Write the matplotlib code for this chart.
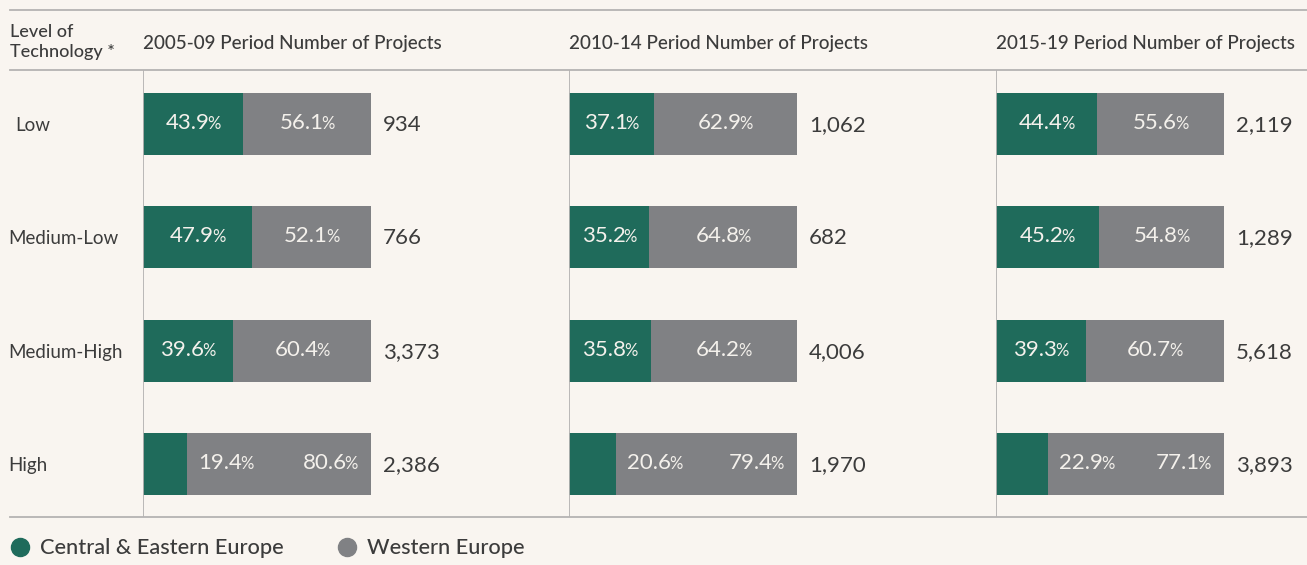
import matplotlib
matplotlib.use("Agg")
import matplotlib.pyplot as plt
from matplotlib.offsetbox import TextArea, HPacker, AnnotationBbox
from matplotlib.lines import Line2D

# ---------------- data ----------------
levels = ["Low", "Medium-Low", "Medium-High", "High"]
periods = ["2005-09", "2010-14", "2015-19"]
cee_2005 = [43.9, 47.9, 39.6, 19.4]
we_2005 = [56.1, 52.1, 60.4, 80.6]
cee_2010 = [37.1, 35.2, 35.8, 20.6]
we_2010 = [62.9, 64.8, 64.2, 79.4]
cee_2015 = [44.4, 45.2, 39.3, 22.9]
we_2015 = [55.6, 54.8, 60.7, 77.1]
projects_2005 = [934, 766, 3373, 2386]
projects_2010 = [1062, 682, 4006, 1970]
projects_2015 = [2119, 1289, 5618, 3893]
series_names = ["Central & Eastern Europe", "Western Europe"]

# ---------------- style ----------------
BG = "#f9f5f0"
GREEN = "#1f6b5b"
GRAY = "#808184"
LINE = "#b5b3b2"
TXT = "#3c3c3c"
WHITE = "#f4f1ec"
plt.rcParams["font.family"] = ["Lato", "DejaVu Sans"]

W, H = 1307, 565
fig = plt.figure(figsize=(W / 100, H / 100), dpi=100, facecolor=BG)


def fx(px):
    return px / W


def fy(py):
    return 1 - py / H


panel_left = [143, 569, 996]
panel_right = [569, 996, W]
PX_PER_UNIT = 2.28
TOP, BOTTOM = 70, 517

cee_all = [cee_2005, cee_2010, cee_2015]
we_all = [we_2005, we_2010, we_2015]
proj_all = [projects_2005, projects_2010, projects_2015]

PCT_FS = 16
PCT_SIGN_FS = 12
PT_PER_PX = 0.72


def pct_label(ax, value, x, y, align, dx_px=0):
    parts = HPacker(children=[
        TextArea(f"{value:.1f}", textprops=dict(color=WHITE, fontsize=PCT_FS)),
        TextArea("%", textprops=dict(color=WHITE, fontsize=PCT_SIGN_FS)),
    ], align="baseline", pad=0, sep=-1.5)
    ab = AnnotationBbox(parts, (x, y), xybox=(dx_px * PT_PER_PX, 1 * PT_PER_PX),
                        xycoords="data", boxcoords="offset points",
                        box_alignment=(align, 0.5), frameon=False, pad=0)
    ax.add_artist(ab)


ypos = list(range(len(levels)))
for p in range(3):
    left, right = panel_left[p], panel_right[p]
    ax = fig.add_axes([fx(left), fy(BOTTOM), (right - left) / W, (BOTTOM - TOP) / H])
    ax.set_facecolor("none")
    ax.set_xlim(0, (right - left) / PX_PER_UNIT)
    ax.set_ylim(3.467, -0.476)
    ax.axis("off")
    cee, we, proj = cee_all[p], we_all[p], proj_all[p]
    ax.barh(ypos, cee, height=0.547, color=GREEN, linewidth=0)
    ax.barh(ypos, we, left=cee, height=0.547, color=GRAY, linewidth=0)
    ax.axvline(0, color=LINE, lw=1.3)
    for i in ypos:
        total = cee[i] + we[i]
        if cee[i] >= 30:
            pct_label(ax, cee[i], cee[i] / 2, i, 0.5)
            pct_label(ax, we[i], cee[i] + we[i] / 2, i, 0.5)
        else:
            pct_label(ax, cee[i], cee[i], i, 0.0, dx_px=11)
            pct_label(ax, we[i], total, i, 1.0, dx_px=-13)
        ax.annotate(f"{proj[i]:,}", xy=(total, i), xytext=(12 * PT_PER_PX, -1 * PT_PER_PX),
                    textcoords="offset points", ha="left", va="center",
                    color=TXT, fontsize=16)
    fig.text(fx(left), fy(43), f"{periods[p]} Period Number of Projects",
             ha="left", va="center", color=TXT, fontsize=13.6, fontweight="medium")
    if p == 0:
        for i, lev in enumerate(levels):
            ax.annotate(lev, xy=(0, i), xytext=((8 - left + (7 if i == 0 else 0)) * PT_PER_PX,
                                                -1.5 * PT_PER_PX),
                        textcoords="offset points", ha="left", va="center",
                        color=TXT, fontsize=13.5)

fig.text(fx(10), fy(42), "Level of\nTechnology *", ha="left", va="center",
         color=TXT, fontsize=13, fontweight="medium", linespacing=1.25)

for yy in (10, TOP, BOTTOM):
    fig.add_artist(Line2D([fx(10), 1], [fy(yy), fy(yy)], transform=fig.transFigure,
                          color=LINE, lw=1.3))

leg_x = [20, 347]
for name, col, lx in zip(series_names, [GREEN, GRAY], leg_x):
    fig.add_artist(Line2D([fx(lx)], [fy(547)], transform=fig.transFigure, marker="o",
                          markersize=13, color=col, linestyle="none"))
    fig.text(fx(lx + 20), fy(548), name, ha="left", va="center", color=TXT,
             fontsize=15.7, fontweight="medium")

fig.savefig("out.png", dpi=100, facecolor=BG)
